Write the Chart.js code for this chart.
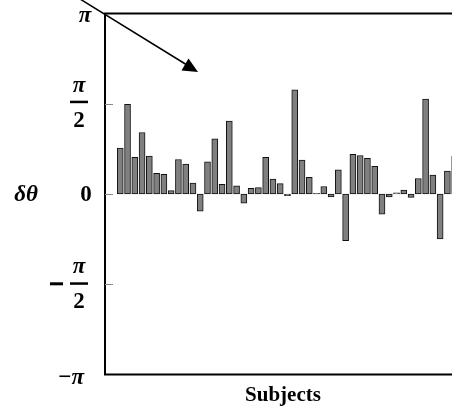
<!DOCTYPE html>
<html>
<head>
<meta charset="utf-8">
<script src="https://cdn.jsdelivr.net/npm/chart.js@4/dist/chart.umd.min.js"></script>
<style>
	html, body { margin:0; padding:0; overflow:hidden; background:#fff; }
	canvas { display:block; }
</style>
</head>
<body>
<canvas id="deltaChart" width="560" height="410"></canvas>
<script>
"use strict";

// subject index on the x axis
var subjects = [1,2,3,4,5,6,7,8,9,10,11,12,13,14,15,16,17,18,19,20,21,22,23,24,
	25,26,27,28,29,30,31,32,33,34,35,36,37,38,39,40,41,42,43,44,45,46,47];

// phase difference per subject (radians)
var deltaTheta = [0.80,1.56,0.64,1.07,0.66,0.36,0.34,0.06,0.60,0.52,0.19,-0.30,
	0.56,0.96,0.17,1.27,0.14,-0.16,0.10,0.11,0.64,0.26,0.18,-0.03,1.81,0.59,0.29,
	0.01,0.13,-0.05,0.42,-0.81,0.69,0.67,0.62,0.48,-0.35,-0.05,0.02,0.07,-0.06,
	0.27,1.65,0.33,-0.78,0.40,0.66];

// y ticks, in multiples of pi
var tickValues = [-Math.PI, -Math.PI/2, 0, Math.PI/2, Math.PI];

var yTitle = "δθ";
var xTitle = "Subjects";

var serif = "'Liberation Serif', 'Times New Roman', serif";

var framePlugin = {
	id: 'frame',
	afterDraw: function(chart) {
		var ctx = chart.ctx;
		var area = chart.chartArea;
		var y = chart.scales.y;
		var left = area.left, top = y.getPixelForValue(Math.PI), bottom = y.getPixelForValue(-Math.PI);

		ctx.save();
		// axes box (right side runs off the page)
		ctx.strokeStyle = '#000';
		ctx.lineWidth = 2;
		ctx.beginPath();
		ctx.moveTo(chart.width, top);
		ctx.lineTo(left, top);
		ctx.lineTo(left, bottom);
		ctx.lineTo(chart.width, bottom);
		ctx.stroke();

		// small inner tick marks
		ctx.strokeStyle = '#8a8a8a';
		ctx.lineWidth = 1;
		[Math.PI/2, 0, -Math.PI/2].forEach(function(v) {
			var py = Math.round(y.getPixelForValue(v)) + 0.5;
			ctx.beginPath();
			ctx.moveTo(left, py);
			ctx.lineTo(left + 8, py);
			ctx.stroke();
		});

		// tick labels
		ctx.fillStyle = '#000';
		ctx.textAlign = 'center';
		ctx.textBaseline = 'middle';
		var piFont = 'italic bold 23px ' + serif;
		var numFont = 'bold 23px ' + serif;

		var half = function(py) {
			ctx.font = piFont;
			ctx.fillText('π', 79, py - 16);
			ctx.fillRect(70, py - 1, 18, 2.5);
			ctx.font = numFont;
			ctx.fillText('2', 79, py + 19);
		};

		ctx.font = piFont;
		ctx.fillText('π', 85, y.getPixelForValue(tickValues[4]) + 3);
		half(y.getPixelForValue(tickValues[3]) - 2);
		ctx.font = numFont;
		ctx.fillText('0', 86, y.getPixelForValue(tickValues[2]) + 1);
		half(y.getPixelForValue(tickValues[1]) - 1);
		ctx.fillRect(50, y.getPixelForValue(tickValues[1]) - 2, 13, 3);
		ctx.textAlign = 'right';
		ctx.font = piFont;
		ctx.fillText('−π', 84, y.getPixelForValue(tickValues[0]) + 3);

		// axis titles
		ctx.textAlign = 'center';
		ctx.fillText(yTitle, 26, y.getPixelForValue(0) + 1);
		ctx.font = 'bold 21px ' + serif;
		ctx.fillText(xTitle, 283, 396);

		// arrow
		ctx.strokeStyle = '#000';
		ctx.lineWidth = 1.5;
		ctx.beginPath();
		ctx.moveTo(80, -1);
		ctx.lineTo(187, 65);
		ctx.stroke();
		ctx.beginPath();
		ctx.moveTo(198, 72);
		ctx.lineTo(181.5, 70.6);
		ctx.lineTo(188.5, 58.4);
		ctx.closePath();
		ctx.fill();
		ctx.restore();
	}
};

var ctx = document.getElementById("deltaChart").getContext("2d");
var myBarChart = new Chart(ctx, {
	type: 'bar',
	data: {
		labels: subjects,
		datasets: [
			{
				label: yTitle,
				data: deltaTheta,
				backgroundColor: '#808080',
				borderColor: '#111',
				borderWidth: 1,
				borderSkipped: false,
				barThickness: 6
			}
		]
	},
	options: {
		responsive: false,
		devicePixelRatio: 1,
		animation: false,
		layout: { padding: { left: 105, top: 13.4, right: 5, bottom: 35.4 } },
		plugins: { legend: { display: false }, tooltip: { enabled: false } },
		scales: {
			x: { type: 'linear', display: false, offset: false, bounds: 'data', min: -1.1, max: 60.8 },
			y: { display: false, min: -Math.PI, max: Math.PI }
		}
	},
	plugins: [framePlugin]
});
</script>
</body>
</html>
